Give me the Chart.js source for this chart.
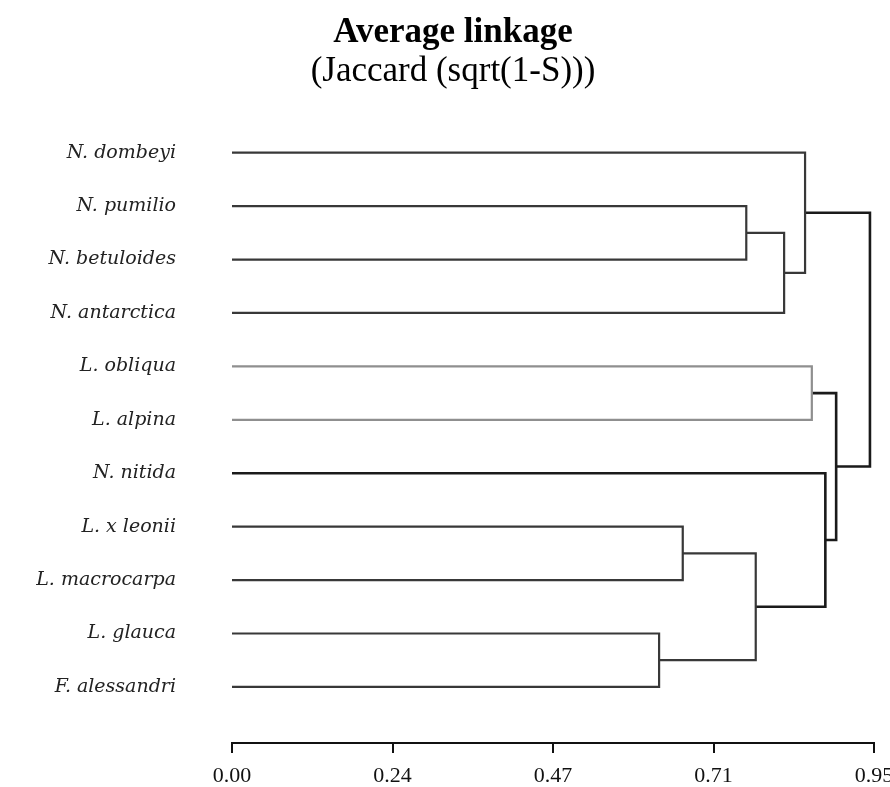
<!DOCTYPE html>
<html><head><meta charset="utf-8">
<script src="https://cdn.jsdelivr.net/npm/chart.js@4/dist/chart.umd.min.js"></script>
<style>html,body{margin:0;padding:0;background:#fff;} #wrap{width:890px;height:787px;position:relative;}</style>
</head><body><div id="wrap"><canvas id="c"></canvas></div>
<script>
const titleText = 'Average linkage';
const subtitleText = '(Jaccard (sqrt(1-S)))';
const leaves = ['N. dombeyi','N. pumilio','N. betuloides','N. antarctica','L. obliqua','L. alpina','N. nitida','L. x leonii','L. macrocarpa','L. glauca','F. alessandri'];
// merge k joins node mergeLeft[k] and mergeRight[k] (leaves 0..10, merges 11..)
const mergeLeft  = [1, 11, 0, 4, 7, 9, 15, 6, 14, 13];
const mergeRight = [2, 3, 12, 5, 8, 10, 16, 17, 18, 19];
const mergeHeight = [0.761, 0.817, 0.848, 0.858, 0.667, 0.632, 0.775, 0.878, 0.894, 0.944];
const xTickValues = [0, 0.2375, 0.475, 0.7125, 0.95];
const xTickLabels = ['0.00','0.24','0.47','0.71','0.95'];

const lightLinks = new Set([3]);   // L. obliqua / L. alpina drawn in light grey

const nodePos = leaves.map((_, i) => i);
const nodeH = leaves.map(() => 0);
const datasets = [];
mergeHeight.forEach((h, k) => {
  const a = mergeLeft[k], b = mergeRight[k];
  nodePos.push((nodePos[a] + nodePos[b]) / 2);
  nodeH.push(h);
  datasets.push({
    data: [
      {x: nodeH[a], y: nodePos[a]},
      {x: h, y: nodePos[a]},
      {x: h, y: nodePos[b]},
      {x: nodeH[b], y: nodePos[b]}
    ],
    showLine: true,
    pointRadius: 0,
    fill: false,
    tension: 0,
    borderColor: lightLinks.has(k) ? '#8f8f8f' : (k >= 7 ? '#1a1a1a' : '#383838'),
    borderWidth: k >= 7 ? 2.6 : 2.2,
    borderJoinStyle: 'miter',
    borderCapStyle: 'butt'
  });
});

new Chart(document.getElementById('c'), {
  type: 'scatter',
  data: { datasets },
  options: {
    responsive: true,
    maintainAspectRatio: false,
    animation: false,
    layout: { padding: { left: 32, right: 16, top: 0, bottom: 0 } },
    plugins: {
      legend: { display: false },
      tooltip: { enabled: false },
      title: {
        display: true, text: titleText, color: '#000',
        font: { family: 'Liberation Serif', size: 35, weight: 'bold', lineHeight: 1.1 },
        padding: { top: 14, bottom: 0 }
      },
      subtitle: {
        display: true, text: subtitleText, color: '#000',
        font: { family: 'Liberation Serif', size: 35, weight: 'normal', lineHeight: 1.1 },
        padding: { top: 0, bottom: 35 }
      }
    },
    scales: {
      x: {
        type: 'linear', position: 'bottom', min: 0, max: 0.95,
        afterBuildTicks: s => { s.ticks = xTickValues.map(v => ({ value: v })); },
        afterFit: s => { s.height = 44; s.paddingLeft = 0; s.paddingRight = 0; },
        ticks: {
          autoSkip: false, maxRotation: 0, padding: 10, color: '#111',
          font: { family: 'Liberation Serif', size: 22 },
          callback: (v, i) => xTickLabels[i]
        },
        grid: { drawOnChartArea: false, drawTicks: true, tickLength: 10, color: '#111', lineWidth: 2 },
        border: { display: true, color: '#111', width: 2 }
      },
      y: {
        type: 'linear', reverse: true, min: -0.5, max: 11.05,
        afterBuildTicks: s => { s.ticks = leaves.map((_, i) => ({ value: i })); },
        afterFit: s => { s.width = 200; s.paddingTop = 0; s.paddingBottom = 0; },
        ticks: {
          autoSkip: false, padding: 56, color: '#222',
          font: { family: 'DejaVu Serif', size: 19, style: 'italic' },
          callback: (v, i) => leaves[i]
        },
        grid: { display: false, drawTicks: false },
        border: { display: false }
      }
    }
  }
});
</script>
</body></html>
